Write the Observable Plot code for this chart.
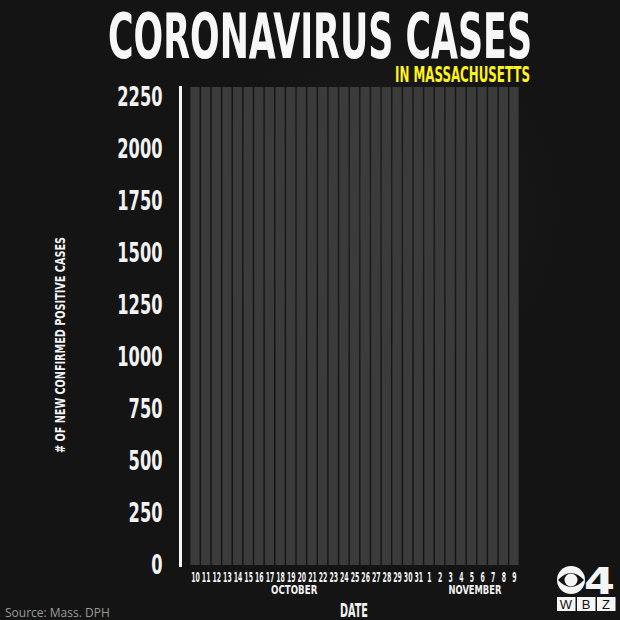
<!DOCTYPE html>
<html>
<head>
<meta charset="utf-8">
<script src="https://cdn.jsdelivr.net/npm/d3@7"></script>
<script src="https://cdn.jsdelivr.net/npm/@observablehq/plot@0.6"></script>
<style>
  html, body { margin: 0; padding: 0; background: #141414; }
  #wrap { position: relative; width: 620px; height: 620px; overflow: hidden;
          background: radial-gradient(circle at 380px 210px, #1e1e1e 0, #141414 180px), #141414; }
  #chart, #overlay { position: absolute; left: 0; top: 0; }
  .narrow { font-family: "DejaVu Sans Condensed", "Liberation Sans Narrow", sans-serif; font-weight: bold; }
</style>
</head>
<body>
<div id="wrap">
  <div id="chart"></div>
  <svg id="overlay" width="620" height="620" xmlns="http://www.w3.org/2000/svg">
    <text class="narrow" x="108" y="58" font-size="62" fill="#f7f7f7" textLength="424" lengthAdjust="spacingAndGlyphs">CORONAVIRUS CASES</text>
    <text class="narrow" x="395" y="82" font-size="21" fill="#fff31a" textLength="135" lengthAdjust="spacingAndGlyphs">IN MASSACHUSETTS</text>
    <text class="narrow" transform="translate(65,345) rotate(-90)" text-anchor="middle" font-size="14" fill="#f2f2f2" textLength="216" lengthAdjust="spacingAndGlyphs"># OF NEW CONFIRMED POSITIVE CASES</text>
    <text class="narrow" x="340" y="617" font-size="19" fill="#f2f2f2" textLength="28" lengthAdjust="spacingAndGlyphs">DATE</text>
    <text x="5" y="617" font-size="12" fill="#9a9a9a" font-family="'Open Sans', 'Liberation Sans', sans-serif">Source: Mass. DPH</text>
    <g id="logo">
      <circle cx="571" cy="580" r="14" fill="#f5f5f5"/>
      <path d="M558,580 Q571,566 584,580 Q571,594 558,580 Z" fill="#141414"/>
      <circle cx="571" cy="580" r="6.5" fill="#f5f5f5"/>
      <text class="narrow" x="584" y="594" font-size="38" fill="#f5f5f5" textLength="31" lengthAdjust="spacingAndGlyphs">4</text>
      <rect x="557" y="597" width="18.5" height="14" fill="#f5f5f5"/>
      <rect x="577" y="597" width="18.5" height="14" fill="#f5f5f5"/>
      <rect x="597" y="597" width="18.5" height="14" fill="#f5f5f5"/>
      <text x="566" y="609" text-anchor="middle" font-size="13" font-family="'Liberation Sans', sans-serif" fill="#141414">W</text>
      <text x="586" y="609" text-anchor="middle" font-size="13" font-family="'Liberation Sans', sans-serif" fill="#141414">B</text>
      <text x="606" y="609" text-anchor="middle" font-size="13" font-family="'Liberation Sans', sans-serif" fill="#141414">Z</text>
    </g>
  </svg>
</div>
<script>
// Categories: days from Oct 10 to Nov 9
const dayLabels = ["10","11","12","13","14","15","16","17","18","19","20","21","22","23","24","25","26","27","28","29","30","31",
                   "1","2","3","4","5","6","7","8","9"];
// Month labels and the day they sit under
const monthLabels = ["OCTOBER", "NOVEMBER"];
const monthAnchorDays = ["19", "5"];
// Y axis tick values
const yTicks = [0, 250, 500, 750, 1000, 1250, 1500, 1750, 2000, 2250];
// Axis top (the grey column tracks reach up to this value)
const yMax = 2300;
// New confirmed cases per day: no bars are shown in the reference (all empty)
const newCases = [];

const narrow = "'DejaVu Sans Condensed', 'Liberation Sans Narrow', sans-serif";

const chart = Plot.plot({
  width: 620,
  height: 620,
  marginLeft: 189,
  marginRight: 100,
  marginTop: 87,
  marginBottom: 55,
  style: { background: "transparent", color: "#f2f2f2", fontFamily: narrow },
  x: { domain: dayLabels, padding: 0.13, round: false, label: null },
  y: { domain: [0, yMax], label: null },
  marks: [
    Plot.barY(dayLabels, { x: d => d, y: () => yMax, fill: "#3b3b3b" }),
    Plot.barY(newCases, { x: "day", y: "cases", fill: "#c00" }),
    Plot.frame({ anchor: "left", dx: -9, stroke: "#f5f5f5", strokeWidth: 3 }),
    Plot.axisY({ ticks: yTicks, tickFormat: d => String(d), tickSize: 0, tickPadding: 27, fontSize: 26, fontWeight: "bold", label: null }),
    Plot.axisX({ tickSize: 0, tickPadding: 7, fontSize: 13.5, fontWeight: "bold", label: null }),
    Plot.text(monthLabels, { x: (d, i) => monthAnchorDays[i], text: d => d, frameAnchor: "bottom", dy: 28, dx: 3,
                             fontSize: 12, fontWeight: "bold", fill: "#f2f2f2" })
  ]
});
document.getElementById("chart").appendChild(chart);

// Condense text widths to imitate the narrow display typeface
const sel = d3.select(chart);
sel.selectAll("[aria-label='y-axis tick label'] text").each(function () {
  const n = this.textContent.length;
  this.setAttribute("textLength", n * 11.3);
  this.setAttribute("lengthAdjust", "spacingAndGlyphs");
});
sel.selectAll("[aria-label='x-axis tick label'] text").each(function () {
  const n = this.textContent.length;
  this.setAttribute("textLength", n * 4.3);
  this.setAttribute("lengthAdjust", "spacingAndGlyphs");
});
sel.selectAll("[aria-label='text'] text").each(function () {
  const n = this.textContent.length;
  this.setAttribute("textLength", n * 6.6);
  this.setAttribute("lengthAdjust", "spacingAndGlyphs");
});
</script>
</body>
</html>
